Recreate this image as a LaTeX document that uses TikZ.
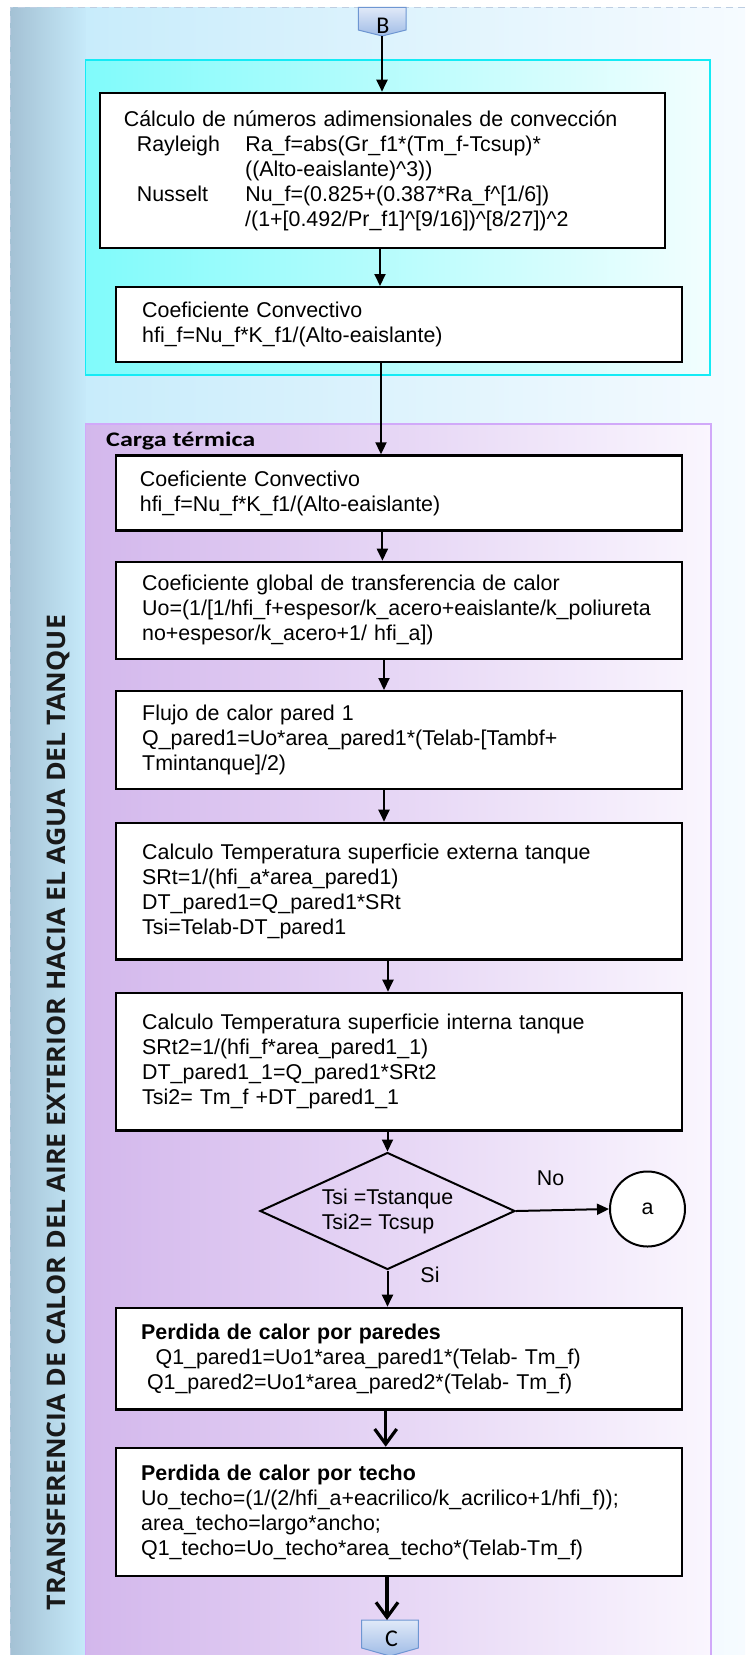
\documentclass[tikz,border=0pt]{standalone}
\usepackage{graphicx}
\usepackage{fontspec}
\setmainfont{Liberation Sans}
\newfontfamily\carl{Carlito}
\newfontfamily\osans{Open Sans}
\usetikzlibrary{arrows.meta,shapes.geometric}
\definecolor{stripL}{RGB}{164,193,212}
\definecolor{stripR}{RGB}{198,234,250}
\definecolor{bgL}{RGB}{200,236,251}
\definecolor{bgR}{RGB}{246,251,255}
\definecolor{cyL}{RGB}{128,251,251}
\definecolor{cyR}{RGB}{242,254,254}
\definecolor{cyB}{RGB}{20,235,245}
\definecolor{puL}{RGB}{211,183,236}
\definecolor{puR}{RGB}{250,246,254}
\definecolor{puB}{RGB}{209,169,249}
\definecolor{opT}{RGB}{224,233,248}
\definecolor{opB}{RGB}{160,188,230}
\definecolor{opD}{RGB}{110,150,210}
\definecolor{dashc}{RGB}{190,206,226}
\begin{document}
\begin{tikzpicture}[x=1pt,y=-1pt,
  box/.style={draw=black, line width=2.4pt, fill=white, rectangle, anchor=north west, align=left,
    font=\fontsize{21.4}{25}\selectfont, inner ysep=0pt},
  arr/.style={line width=2pt, -{Triangle[length=12pt,width=11pt]}},
  tarr/.style={line width=3.2pt, -{Straight Barb[length=15pt,width=22pt]}},
  opshape/.style={draw=opD, line width=1pt, top color=opT, bottom color=opB},
  lettr/.style={font=\carl\fontsize{24}{24}\selectfont, inner sep=0pt},
  lbl/.style={font=\fontsize{21.4}{25}\selectfont}
]
\useasboundingbox (0,0) rectangle (745,1655);
% background
\fill[white] (0,0) rectangle (745,1655);
\fill[left color=stripL, right color=stripR] (10,7) rectangle (86,1655);
\fill[left color=bgL, right color=bgR] (86,7) rectangle (745,1655);
\draw[dashc, line width=1pt, dash pattern=on 7pt off 5pt] (10,1655) -- (10,7) -- (745,7);
% groups
\fill[left color=cyL, right color=cyR] (85.5,60) rectangle (710,375);
\draw[cyB, line width=1.3pt] (85.5,60) rectangle (710,375);
\fill[left color=puL, right color=puR] (85.5,424) rectangle (711,1655);
\draw[puB, line width=1.3pt] (85.5,1657) -- (85.5,424) -- (711,424) -- (711,1657);

% title
\node[rotate=90, anchor=base, inner sep=0pt, text=black!90,
  font=\osans\bfseries\fontsize{25.6}{26}\selectfont] (title) at (65,1112.5)
  {\resizebox{995pt}{\height}{TRANSFERENCIA DE CALOR DEL AIRE EXTERIOR HACIA EL AGUA DEL TANQUE}};
\node[anchor=base west, inner sep=0pt, font=\carl\bfseries\fontsize{20.7}{21}\selectfont] (ct) at (106,446.7)
  {\resizebox{149pt}{\height}{Carga térmica}};

% off-page connectors
\path[opshape] (358.3,7.3) -- (406,7.3) -- (406,30) -- (382.2,36) -- (358.3,30) -- cycle;
\node[lettr] (B) at (383,25.8) {B};
\coordinate (Btip) at (382,36);
\path[opshape] (361.7,1620) -- (418.3,1620) -- (418.3,1648) -- (390,1656) -- (361.7,1648) -- cycle;
\node[lettr] (C) at (391.5,1639.2) {C};
\coordinate (Ctop) at (387,1620);

% boxes
\node[box, minimum width=564.7pt, minimum height=155pt, text width=517.5pt, inner xsep=23.6pt] (b1) at (99,91.7)
{Cálculo de números adimensionales de convección\\
\hspace*{13pt}\makebox[108.6pt][l]{Rayleigh}Ra\_f=abs(Gr\_f1*(Tm\_f-Tcsup)*\\
\hspace*{121.4pt}((Alto-eaislante)\textasciicircum 3))\\
\hspace*{13pt}\makebox[108.6pt][l]{Nusselt}Nu\_f=(0.825+(0.387*Ra\_f\textasciicircum[1/6])\\
\hspace*{121.4pt}/(1+[0.492/Pr\_f1]\textasciicircum[9/16])\textasciicircum[8/27])\textasciicircum 2};

\node[box, minimum width=566.3pt, minimum height=75pt, text width=513.3pt, inner xsep=26.5pt] (b2) at (114.5,286)
{Coeficiente Convectivo\\hfi\_f=Nu\_f*K\_f1/(Alto-eaislante)};

\node[box, minimum width=566.3pt, minimum height=75pt, text width=517.9pt, inner xsep=24.2pt] (b3) at (114.5,454.3)
{Coeficiente Convectivo\\hfi\_f=Nu\_f*K\_f1/(Alto-eaislante)};

\node[box, minimum width=566.3pt, minimum height=97pt, text width=513.3pt, inner xsep=26.5pt] (b4) at (114.5,560.7)
{Coeficiente global de transferencia de calor\\
Uo=(1/[1/hfi\_f+espesor/k\_acero+eaislante/k\_poliureta\\
no+espesor/k\_acero+1/ hfi\_a])};

\node[box, minimum width=566.3pt, minimum height=97.7pt, text width=513.3pt, inner xsep=26.5pt] (b5) at (114.5,690)
{Flujo de calor pared 1\\
Q\_pared1=Uo*area\_pared1*(Telab-[Tambf+\\
Tmintanque]/2)};

\node[box, minimum width=566.3pt, minimum height=136.6pt, text width=513.3pt, inner xsep=26.5pt] (b6) at (114.5,821.7)
{Calculo Temperatura superficie externa tanque\\
SRt=1/(hfi\_a*area\_pared1)\\
DT\_pared1=Q\_pared1*SRt\\
Tsi=Telab-DT\_pared1};

\node[box, minimum width=566.3pt, minimum height=137.6pt, text width=513.3pt, inner xsep=26.5pt] (b7) at (114.5,991.7)
{Calculo Temperatura superficie interna tanque\\
SRt2=1/(hfi\_f*area\_pared1\_1)\\
DT\_pared1\_1=Q\_pared1*SRt2\\
Tsi2= Tm\_f +DT\_pared1\_1};

\node[draw, diamond, line width=2pt, minimum width=255pt, minimum height=117pt, aspect=2.18,
  inner sep=0pt, align=left, lbl] (d) at (387.5,1211) {Tsi =Tstanque\\Tsi2= Tcsup};
\node[draw, circle, line width=2pt, fill=white, minimum size=75pt, inner sep=0pt, lbl] (a) at (647.5,1209) {a};
\node[lbl] (no) at (550.5,1178.5) {No};
\node[lbl] (si) at (430,1275) {Si};

\node[box, minimum width=566.3pt, minimum height=101.6pt, text width=515.3pt, inner xsep=25.5pt] (b8) at (114.5,1306.7)
{\textbf{Perdida de calor por paredes}\\
\hspace*{14.4pt}Q1\_pared1=Uo1*area\_pared1*(Telab- Tm\_f)\\
\hspace*{5.8pt}Q1\_pared2=Uo1*area\_pared2*(Telab- Tm\_f)};

\node[box, minimum width=566.3pt, minimum height=128.3pt, text width=515.3pt, inner xsep=25.5pt] (b9) at (114.5,1446.7)
{\textbf{Perdida de calor por techo}\\
Uo\_techo=(1/(2/hfi\_a+eacrilico/k\_acrilico+1/hfi\_f));\\
area\_techo=largo*ancho;\\
Q1\_techo=Uo\_techo*area\_techo*(Telab-Tm\_f)};

% connectors
\draw[arr] (Btip) -- (b1.north -| Btip);
\draw[arr] (b1.south -| 380,0) -- (b2.north -| 380,0);
\draw[arr] (b2.south -| 381,0) -- (b3.north -| 381,0);
\draw[arr] (b3.south -| 382.4,0) -- (b4.north -| 382.4,0);
\draw[arr] (b4.south -| 384,0) -- (b5.north -| 384,0);
\draw[arr] (b5.south -| 384,0) -- (b6.north -| 384,0);
\draw[arr] (b6.south -| 388,0) -- (b7.north -| 388,0);
\draw[arr] (b7.south -| d.north) -- (d.north);
\draw[arr] (d.east) -- (a.west);
\draw[arr] (d.south) -- (d.south |- b8.north);
\draw[tarr] (b8.south -| 385.7,0) -- (b9.north -| 385.7,0);
\draw[tarr] (b9.south -| Ctop) -- (Ctop);
\end{tikzpicture}
\end{document}
